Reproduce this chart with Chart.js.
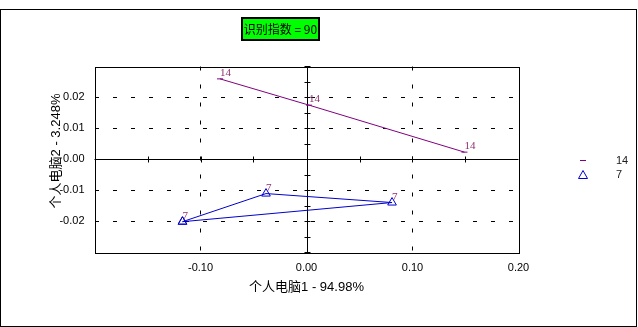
<!DOCTYPE html>
<html>
<head>
<meta charset="utf-8">
<script src="https://cdn.jsdelivr.net/npm/chart.js@4"></script>
<style>
	body { margin: 0; background: #fff; }
	canvas { display: block; }
</style>
</head>
<body>
<canvas id="chart" width="638" height="327"></canvas>
<script>
// values
const seriesNames = ["14", "7"]
const series14X = [-0.0816, 0.0024, 0.149]
const series14Y = [0.026, 0.0175, 0.0023]
const series7X = [-0.117, -0.0382, 0.0807]
const series7Y = [-0.0202, -0.0111, -0.014]
const xTicks = [-0.2, -0.1, 0, 0.1, 0.2]
const yTicks = [-0.03, -0.02, -0.01, 0, 0.01, 0.02, 0.03]
const titleText = "识别指数 = 90"
const xTitle = "个人电脑1 - 94.98%"
const yTitle = "个人电脑2 - 3.248%"

const purple = "#800080"
const blue = "#0000cc"
const labelColor = "#903070"
const latinFont = "'Liberation Sans', 'Noto Sans CJK SC', sans-serif"

const toPoints = (xs, ys) => xs.map((x, i) => ({ x: x, y: ys[i] }))

const pts14 = toPoints(series14X, series14Y)
const pts7 = toPoints(series7X, series7Y)
// triangle is drawn closed
const pts7Closed = pts7.concat([pts7[0]])

const fmt = (v) => (Math.abs(v) < 1e-9 ? 0 : v).toFixed(2)

const decor = {
	id: "decor",
	beforeDraw: (chart) => {
		const c = chart.ctx
		c.save()
		// outer frame
		c.strokeStyle = "#000"
		c.lineWidth = 1
		c.strokeRect(0.5, 9.5, 636, 317)
		// green title box
		c.fillStyle = "#00ff00"
		c.fillRect(242, 18, 77, 22)
		c.lineWidth = 2
		c.strokeRect(242, 18, 77, 22)
		c.fillStyle = "#000"
		c.font = "12px 'Noto Sans CJK SC', sans-serif"
		c.textAlign = "center"
		c.textBaseline = "middle"
		c.fillText(titleText, 280.5, 29.5)
		// y axis title, sits a bit above the plot centre
		c.translate(56, 151)
		c.rotate(-Math.PI / 2)
		c.font = "13px " + latinFont
		c.fillText(yTitle, 0, 0)
		c.restore()
	},
	beforeDatasetsDraw: (chart) => {
		const c = chart.ctx
		const a = chart.chartArea
		const xs = chart.scales.x
		const ys = chart.scales.y
		const x0 = Math.round(xs.getPixelForValue(0)) + 0.5
		const y0 = Math.round(ys.getPixelForValue(0)) + 0.5
		c.save()
		c.strokeStyle = "#000"
		c.lineWidth = 1
		c.strokeRect(Math.round(a.left) + 0.5, Math.round(a.top) + 0.5, Math.round(a.right - a.left), Math.round(a.bottom - a.top))
		c.beginPath()
		c.moveTo(a.left, y0)
		c.lineTo(a.right, y0)
		c.moveTo(x0, a.top)
		c.lineTo(x0, a.bottom)
		// minor ticks on the zero lines
		for (let v = -0.2; v <= 0.2001; v += 0.05) {
			const px = Math.round(xs.getPixelForValue(v)) + 0.5
			c.moveTo(px, y0 - 3)
			c.lineTo(px, y0 + 3)
		}
		for (let v = -0.03; v <= 0.03001; v += 0.005) {
			const py = Math.round(ys.getPixelForValue(v)) + 0.5
			c.moveTo(x0 - 3, py)
			c.lineTo(x0 + 3, py)
		}
		c.stroke()
		c.restore()
	},
	afterDatasetsDraw: (chart) => {
		const c = chart.ctx
		c.save()
		// point labels
		c.font = "11px 'Liberation Serif', serif"
		c.fillStyle = labelColor
		c.textAlign = "left"
		c.textBaseline = "alphabetic"
		const groups = [[pts14, seriesNames[0]], [pts7, seriesNames[1]]]
		groups.forEach(([pts, name]) => {
			pts.forEach((p) => {
				const px = chart.scales.x.getPixelForValue(p.x)
				const py = chart.scales.y.getPixelForValue(p.y)
				c.fillText(name, px, py - 3)
			})
		})
		// legend
		c.strokeStyle = purple
		c.lineWidth = 1
		c.beginPath()
		c.moveTo(580, 160.5)
		c.lineTo(586, 160.5)
		c.stroke()
		c.strokeStyle = blue
		c.beginPath()
		c.moveTo(583, 170.5)
		c.lineTo(587.5, 178.5)
		c.lineTo(578.5, 178.5)
		c.closePath()
		c.stroke()
		c.font = "11px " + latinFont
		c.fillStyle = "#202020"
		c.textBaseline = "middle"
		c.fillText(seriesNames[0], 616, 161)
		c.fillText(seriesNames[1], 616, 174.5)
		c.restore()
	},
}

const gridColor = (ctx) => {
	const v = ctx.tick.value
	if (Math.abs(v) < 1e-9) return "transparent"
	if (ctx.scale.axis === "x" && Math.abs(Math.abs(v) - 0.2) < 1e-9) return "transparent"
	if (ctx.scale.axis === "y" && Math.abs(Math.abs(v) - 0.03) < 1e-9) return "transparent"
	return "#000"
}

const config = {
	type: "scatter",
	data: {
		datasets: [
			{
				label: seriesNames[0],
				data: pts14,
				showLine: true,
				borderColor: purple,
				borderWidth: 1,
				pointStyle: "line",
				pointRadius: 3,
				pointBorderColor: purple,
				pointBorderWidth: 1,
			},
			{
				label: seriesNames[1],
				data: pts7Closed,
				showLine: true,
				borderColor: blue,
				borderWidth: 1,
				pointStyle: "triangle",
				pointRadius: 5,
				pointBackgroundColor: "transparent",
				pointBorderColor: blue,
				pointBorderWidth: 1,
			},
		],
	},
	options: {
		responsive: false,
		animation: false,
		devicePixelRatio: 1,
		layout: { padding: { top: 66.5, right: 119.5, bottom: 0, left: 0 } },
		plugins: { legend: { display: false }, tooltip: { enabled: false } },
		scales: {
			x: {
				type: "linear",
				min: -0.2,
				max: 0.2,
				afterBuildTicks: (s) => { s.ticks = xTicks.map((v) => ({ value: v })) },
				afterFit: (s) => { s.height = 75 },
				border: { display: false, dash: [4, 14] },
				grid: { color: gridColor, drawTicks: false, lineWidth: 1 },
				ticks: {
					padding: 9,
					color: "#000",
					font: { size: 11, family: latinFont },
					callback: (v) => (Math.abs(v + 0.2) < 1e-9 ? "" : fmt(v)),
				},
				title: {
					display: true,
					text: xTitle,
					color: "#000",
					font: { size: 13, family: latinFont },
					padding: { bottom: 32 },
				},
			},
			y: {
				type: "linear",
				min: -0.03,
				max: 0.03,
				afterBuildTicks: (s) => { s.ticks = yTicks.map((v) => ({ value: v })) },
				afterFit: (s) => { s.width = 94.5 },
				border: { display: false, dash: [4, 14] },
				grid: { color: gridColor, drawTicks: false, lineWidth: 1 },
				ticks: {
					padding: 10,
					color: "#000",
					font: { size: 11, family: latinFont },
					callback: (v) => (Math.abs(Math.abs(v) - 0.03) < 1e-9 ? "" : fmt(v)),
				},
			},
		},
	},
	plugins: [decor],
}

new Chart(document.getElementById("chart"), config)
</script>
</body>
</html>
